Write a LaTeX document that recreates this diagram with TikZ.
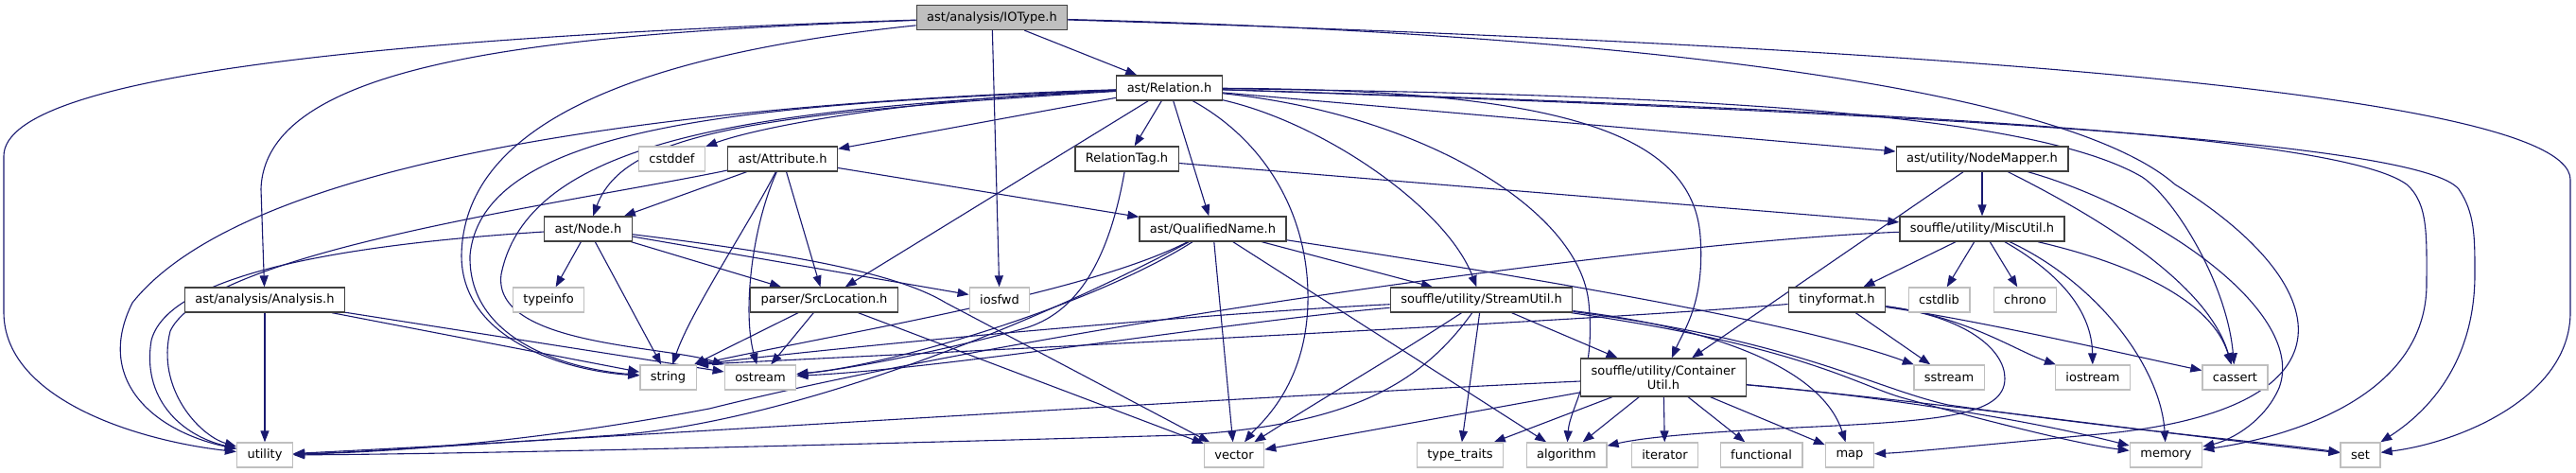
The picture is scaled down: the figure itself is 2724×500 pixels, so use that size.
\documentclass[tikz,border=0pt]{standalone}
\usepackage{fontspec}
\setmainfont{DejaVu Sans}
\usetikzlibrary{arrows.meta}
\definecolor{DEdge}{HTML}{191970}
\definecolor{DGrey}{HTML}{BFBFBF}
\definecolor{DFrame}{HTML}{404040}
\pgfdeclarelayer{edges}
\pgfsetlayers{edges,main}

\begin{document}
\begin{tikzpicture}[
  x=1pt,y=-1pt,
  every node/.style={font=\fontsize{13}{15.5}\selectfont},
  hdr/.style={draw=DFrame,fill=white,line width=1.3pt,inner xsep=11pt,
    inner ysep=0pt,minimum height=26pt},
  current/.style={hdr,fill=DGrey},
  sys/.style={draw=DGrey,fill=white,line width=1.3pt,inner xsep=11pt,
    inner ysep=0pt,minimum height=26pt},
  dep/.style={-{Triangle[length=12pt,width=9pt]},draw=DEdge,line width=1.1pt}
]
  \useasboundingbox (0,0) rectangle (2724,500);

  \node[current] (iotype) at (1049,18.5) {ast/analysis/IOType.h};
  \node[hdr] (rel) at (1236.5,93) {ast/Relation.h};
  \node[sys] (cstddef) at (710.5,168) {cstddef};
  \node[hdr] (attr) at (827.5,168) {ast/Attribute.h};
  \node[hdr] (reltag) at (1191.5,168) {RelationTag.h};
  \node[hdr] (nmap) at (2096,168) {ast/utility/NodeMapper.h};
  \node[hdr] (node) at (622,242) {ast/Node.h};
  \node[hdr] (qname) at (1282.5,242) {ast/QualifiedName.h};
  \node[hdr] (misc) at (2096,242) {souffle/utility/MiscUtil.h};
  \node[hdr] (analysis) at (280,317) {ast/analysis/Analysis.h};
  \node[sys] (typeinfo) at (580,317) {typeinfo};
  \node[hdr] (srcloc) at (871.5,317) {parser/SrcLocation.h};
  \node[sys] (iosfwd) at (1057,317) {iosfwd};
  \node[hdr] (stream) at (1566.5,317) {souffle/utility/StreamUtil.h};
  \node[hdr] (tiny) at (1942.5,317) {tinyformat.h};
  \node[sys] (cstdlib) at (2050.5,317) {cstdlib};
  \node[sys] (chrono) at (2141.5,317) {chrono};
  \node[hdr,align=center,minimum height=40pt] (cont) at (1759,399)
    {souffle/utility/Container\\Util.h};
  \node[sys] (string) at (706.5,399) {string};
  \node[sys] (ostream) at (804,399) {ostream};
  \node[sys] (sstream) at (2061,399) {sstream};
  \node[sys] (iostream) at (2213,399) {iostream};
  \node[sys] (cassert) at (2363.5,399) {cassert};
  \node[sys] (utility) at (280,481) {utility};
  \node[sys] (vector) at (1305,481) {vector};
  \node[sys] (typetr) at (1544,481) {type\_traits};
  \node[sys] (algo) at (1656.5,481) {algorithm};
  \node[sys] (iter) at (1760.5,481) {iterator};
  \node[sys] (func) at (1862.5,481) {functional};
  \node[sys] (map) at (1956,481) {map};
  \node[sys] (memory) at (2290.5,481) {memory};
  \node[sys] (set) at (2496,481) {set};

  \begin{pgfonlayer}{edges}
  \foreach \a/\b in {iotype/rel,iotype/iosfwd,rel/attr,rel/reltag,rel/qname,
      rel/srcloc,rel/nmap,node/typeinfo,node/string,node/srcloc,node/iosfwd,
      attr/node,attr/qname,attr/srcloc,reltag/misc,qname/stream,qname/vector,
      qname/algo,nmap/cont,nmap/misc,misc/tiny,misc/cstdlib,misc/chrono,
      tiny/sstream,stream/cont,stream/typetr,cont/vector,cont/typetr,cont/algo,
      cont/iter,cont/func,cont/map,srcloc/string,srcloc/ostream,srcloc/vector,
      analysis/utility,analysis/string,analysis/ostream}
    {\draw[dep] (\a) -- (\b);}

  % IOType.h
  \draw[dep] (iotype) .. controls (450,38) and (4,75) .. (4,165) -- (4,330)
    .. controls (4,420) and (140,465) .. (utility);
  \draw[dep] (iotype) .. controls (600,35) and (280,60) .. (276,200) -- (analysis);
  \draw[dep] (iotype) .. controls (650,60) and (490,140) .. (488,270)
    .. controls (488,360) and (600,392) .. (string);
  \draw[dep] (iotype) .. controls (1700,35) and (2180,90) .. (2300,195)
    .. controls (2470,300) and (2500,430) .. (2230,458)
    .. controls (2100,470) and (2020,478) .. (map);
  \draw[dep] (iotype) .. controls (1900,45) and (2718,90) .. (2718,190) -- (2718,330)
    .. controls (2718,420) and (2600,468) .. (set);

  % Relation.h
  \draw[dep] (rel) .. controls (950,105) and (800,135) .. (cstddef);
  \draw[dep] (rel) .. controls (800,120) and (660,140) .. (node);
  \draw[dep] (rel) .. controls (800,110) and (510,130) .. (497,270)
    .. controls (495,360) and (600,390) .. (string);
  \draw[dep] (rel) .. controls (820,115) and (560,140) .. (530,290)
    .. controls (520,365) and (700,365) .. (ostream.north west);
  \draw[dep] (rel) .. controls (700,110) and (260,170) .. (140,320)
    .. controls (100,400) and (160,455) .. (utility);
  \draw[dep] (rel) .. controls (1340,150) and (1385,230) .. (1383,320)
    .. controls (1381,410) and (1330,450) .. (vector);
  \draw[dep] (rel) .. controls (1400,130) and (1530,220) .. (stream);
  \draw[dep] (rel) .. controls (1500,120) and (1670,220) .. (1680,320)
    .. controls (1688,400) and (1660,430) .. (algo);
  \draw[dep] (rel) .. controls (1650,95) and (1790,140) .. (1798,250)
    .. controls (1803,320) and (1780,350) .. (cont);
  \draw[dep] (rel) .. controls (1800,100) and (2150,120) .. (2265,187)
    .. controls (2300,210) and (2355,300) .. (cassert);
  \draw[dep] (rel) .. controls (1950,115) and (2470,140) .. (2545,195)
    .. controls (2568,215) and (2566,250) .. (2566,300)
    .. controls (2566,420) and (2420,462) .. (memory);
  \draw[dep] (rel) .. controls (2050,120) and (2560,150) .. (2600,200)
    .. controls (2617,225) and (2617,250) .. (2617,290)
    .. controls (2617,390) and (2560,440) .. (set);

  % Node.h, Attribute.h, RelationTag.h
  \draw[dep] (node) .. controls (420,255) and (180,280) .. (160,360)
    .. controls (150,420) and (190,460) .. (utility);
  \draw[dep] (node) .. controls (850,270) and (950,290) .. (1000,320) -- (vector);
  \draw[dep] (attr) .. controls (600,215) and (220,265) .. (180,350)
    .. controls (165,410) and (210,460) .. (utility);
  \draw[dep] (attr) .. controls (795,240) and (785,330) .. (ostream);
  \draw[dep] (attr) .. controls (790,240) and (730,330) .. (string);
  \draw[dep] (reltag) .. controls (1170,290) and (1130,335) .. (1080,348)
    .. controls (1000,370) and (900,390) .. (ostream);

  % QualifiedName.h
  \draw[dep] (qname) .. controls (1150,310) and (900,350) .. (string.north east);
  \draw[dep] (qname) .. controls (1160,320) and (950,385) .. (ostream);
  \draw[dep] (qname) .. controls (1120,330) and (850,445) .. (650,460)
    .. controls (500,470) and (380,478) .. (utility);
  \draw[dep] (qname) .. controls (1600,290) and (1900,340) .. (sstream);

  % NodeMapper.h, MiscUtil.h, tinyformat.h
  \draw[dep] (nmap) .. controls (2220,230) and (2335,300) .. (cassert);
  \draw[dep] (nmap) .. controls (2280,220) and (2440,330) .. (2410,410)
    .. controls (2395,445) and (2360,465) .. (memory);
  \draw[dep] (misc) .. controls (2180,290) and (2212,330) .. (iostream);
  \draw[dep] (misc) .. controls (2220,300) and (2285,390) .. (memory);
  \draw[dep] (misc) .. controls (2260,280) and (2340,320) .. (cassert);
  \draw[dep] (misc) .. controls (1750,255) and (1100,345) .. (750,432)
    .. controls (550,470) and (400,478) .. (utility);
  \draw[dep] (tiny) .. controls (2080,335) and (2130,370) .. (iostream);
  \draw[dep] (tiny) .. controls (2100,340) and (2250,375) .. (cassert);
  \draw[dep] (tiny) .. controls (2080,335) and (2120,370) .. (2120,400)
    .. controls (2120,440) and (2050,445) .. (1900,452)
    .. controls (1800,457) and (1740,462) .. (algo);
  \draw[dep] (tiny) .. controls (1700,338) and (1050,370) .. (string.north east);

  % StreamUtil.h, ContainerUtil.h
  \draw[dep] (stream) .. controls (1470,380) and (1400,420) .. (vector);
  \draw[dep] (stream) .. controls (1500,410) and (1420,450) .. (1250,460)
    .. controls (900,470) and (500,480) .. (utility);
  \draw[dep] (stream) .. controls (1300,330) and (950,360) .. (string.north east);
  \draw[dep] (stream) .. controls (1300,340) and (1000,390) .. (ostream);
  \draw[dep] (stream) .. controls (1800,345) and (1925,385) .. (map);
  \draw[dep] (stream) .. controls (1900,365) and (1960,405) .. (2010,420)
    .. controls (2100,445) and (2200,470) .. (memory);
  \draw[dep] (stream) .. controls (1900,360) and (1980,410) .. (2060,428)
    .. controls (2250,455) and (2400,468) .. (set);
  \draw[dep] (cont) .. controls (1300,420) and (700,460) .. (utility);
  \draw[dep] (cont) .. controls (2000,420) and (2150,445) .. (memory);
  \draw[dep] (cont) .. controls (2050,425) and (2300,460) .. (set);
  \end{pgfonlayer}
\end{tikzpicture}
\end{document}
